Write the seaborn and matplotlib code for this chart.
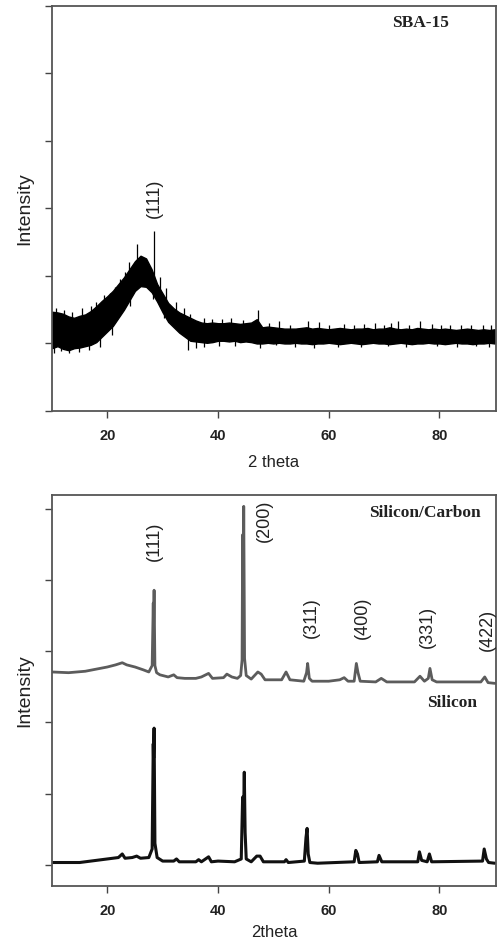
import matplotlib
matplotlib.use('Agg')
import matplotlib.pyplot as plt
import seaborn as sns
import pandas as pd

# ---------------- data ----------------
# SBA-15: noisy band described by upper / lower envelopes (2theta step 1 deg)
sba_theta = list(range(10, 91))
sba_upper = [1.47, 1.46, 1.44, 1.40, 1.38, 1.41, 1.43, 1.48, 1.55, 1.63,
             1.70, 1.78, 1.88, 1.98, 2.10, 2.22, 2.30, 2.26, 2.10, 1.88,
             1.74, 1.60, 1.52, 1.46, 1.42, 1.38, 1.34, 1.31, 1.30, 1.31,
             1.30, 1.30, 1.31, 1.30, 1.29, 1.30, 1.31, 1.36, 1.24, 1.25,
             1.24, 1.23, 1.22, 1.22, 1.22, 1.23, 1.24, 1.22, 1.23, 1.22,
             1.21, 1.22, 1.23, 1.22, 1.21, 1.22, 1.22, 1.23, 1.21, 1.22,
             1.22, 1.24, 1.22, 1.21, 1.22, 1.21, 1.23, 1.22, 1.21, 1.22,
             1.21, 1.22, 1.21, 1.20, 1.21, 1.22, 1.21, 1.20, 1.21, 1.20,
             1.21]
sba_lower = [0.93, 0.96, 0.92, 0.90, 0.93, 0.94, 0.96, 0.98, 1.02, 1.10,
             1.18, 1.26, 1.38, 1.50, 1.64, 1.78, 1.85, 1.84, 1.76, 1.62,
             1.46, 1.32, 1.24, 1.16, 1.10, 1.04, 1.03, 1.02, 1.01, 1.02,
             1.04, 1.04, 1.03, 1.04, 1.02, 1.03, 1.02, 1.00, 1.00, 1.01,
             1.00, 1.01, 1.00, 1.00, 1.01, 1.00, 1.00, 0.99, 1.00, 1.00,
             1.01, 1.00, 0.99, 1.00, 1.01, 1.00, 0.99, 1.00, 1.01, 1.00,
             1.00, 0.99, 1.00, 1.01, 1.00, 0.99, 1.00, 1.00, 1.01, 1.00,
             1.00, 0.99, 1.00, 1.01, 1.00, 1.00, 0.99, 1.00, 1.00, 1.01,
             1.00]
# upward spikes sticking out of the band (position, tip)
up_theta = [10.7, 12.2, 13.6, 15.5, 17.0, 18.0, 19.4, 20.4, 21.3, 22.3, 23.2, 24.0,
            25.3, 28.35, 29.6, 30.6, 32.4, 33.9, 35.0, 37.5, 39.0, 40.8, 42.3,
            44.5, 47.2, 49.3, 51.1, 53.0, 56.2, 58.3, 60.1, 62.8, 64.5, 66.4, 68.3,
            70.0, 71.3, 72.5, 74.5, 76.5, 78.6, 80.3, 81.9, 84.0, 85.8, 87.9, 89.4]
up_tip = [1.53, 1.50, 1.47, 1.52, 1.55, 1.62, 1.72, 1.75, 1.84, 1.95, 2.06, 2.20,
          2.48, 2.66, 1.98, 1.82, 1.62, 1.52, 1.44, 1.38, 1.36, 1.36, 1.37,
          1.35, 1.50, 1.30, 1.33, 1.28, 1.33, 1.32, 1.28, 1.29, 1.28, 1.29, 1.31,
          1.28, 1.30, 1.33, 1.28, 1.34, 1.29, 1.27, 1.28, 1.27, 1.27, 1.28, 1.27]
# downward spikes (position, lowest point)
dn_theta = [10.4, 11.6, 13.1, 14.8, 16.7, 18.6, 20.9, 24.1, 28.3, 30.2, 34.5,
            36.1, 37.5, 40.2, 43.0, 47.5, 50.5, 54.0, 57.4, 61.7, 65.9, 70.7,
            74.0, 79.5, 83.1, 86.7, 89.0]
dn_tip = [0.86, 0.89, 0.86, 0.88, 0.91, 0.95, 1.12, 1.55, 1.66, 1.38, 0.90,
          0.93, 0.95, 0.96, 0.96, 0.94, 0.97, 0.95, 0.94, 0.95, 0.95, 0.96,
          0.95, 0.96, 0.95, 0.96, 0.95]

# Silicon/Carbon trace (grey)
sc_theta = [10, 13, 16, 18, 20, 21.5, 22.7, 23.5, 25, 26.5, 27.5, 28.1, 28.3, 28.35,
            28.45, 28.6, 28.9, 29.5, 31, 32, 32.6, 34, 36, 37, 38.3, 39, 41, 41.6,
            42.5, 43.5, 44.1, 44.35, 44.45, 44.55, 44.65, 44.8, 45.1, 46, 47.2, 47.8,
            48.5, 51.5, 52.3, 53, 55.5, 56.0, 56.2, 56.5, 57, 60, 62, 62.8, 63.5,
            64.6, 65.0, 65.3, 65.7, 68.5, 69.5, 70.5, 75.5, 76.5, 77.3, 78.0, 78.3,
            78.7, 79.5, 83, 87.5, 88.2, 88.8, 90]
sc_int = [2.71, 2.70, 2.72, 2.75, 2.78, 2.81, 2.84, 2.81, 2.78, 2.74, 2.71, 2.80, 3.68,
          3.30, 3.86, 2.80, 2.70, 2.67, 2.64, 2.67, 2.63, 2.62, 2.62, 2.64, 2.69,
          2.62, 2.63, 2.68, 2.64, 2.62, 2.66, 2.88, 4.64, 3.40, 5.04, 2.90, 2.66,
          2.61, 2.71, 2.68, 2.60, 2.60, 2.71, 2.60, 2.58, 2.70, 2.83, 2.62, 2.58,
          2.58, 2.60, 2.63, 2.58, 2.58, 2.83, 2.70, 2.58, 2.57, 2.62, 2.57, 2.57,
          2.65, 2.58, 2.62, 2.76, 2.60, 2.57, 2.57, 2.57, 2.64, 2.56, 2.55]

# Silicon trace (black)
si_theta = [10, 15, 17, 20, 22, 22.7, 23.2, 24.5, 25.3, 26, 27.5, 28.1, 28.3, 28.35,
            28.45, 28.6, 29, 30, 32, 32.5, 33, 36, 36.5, 37, 38.3, 38.8, 40, 43,
            44.2, 44.45, 44.6, 44.75, 44.9, 45.1, 46, 47, 47.6, 48.2, 52, 52.3,
            52.7, 55.6, 55.9, 56.1, 56.3, 56.6, 58, 64.6, 64.9, 65.2, 65.5, 68.8,
            69.1, 69.6, 76.1, 76.4, 76.8, 77.8, 78.2, 78.6, 87.8, 88.1, 88.5, 88.9, 90]
si_int = [0.03, 0.03, 0.05, 0.08, 0.10, 0.15, 0.09, 0.10, 0.12, 0.09, 0.10, 0.22,
          1.70, 1.50, 1.92, 0.30, 0.10, 0.05, 0.05, 0.08, 0.04, 0.04, 0.07, 0.04,
          0.11, 0.04, 0.05, 0.04, 0.08, 0.95, 0.60, 1.30, 0.45, 0.08, 0.04, 0.12,
          0.12, 0.04, 0.04, 0.07, 0.03, 0.05, 0.38, 0.51, 0.15, 0.03, 0.02, 0.04,
          0.20, 0.15, 0.03, 0.04, 0.13, 0.04, 0.04, 0.18, 0.06, 0.04, 0.15, 0.04,
          0.05, 0.22, 0.08, 0.03, 0.02]

# peak labels
top_labels = ['(111)']
top_label_x = [28.5]
top_label_y = [3.15]
bot_labels = ['(111)', '(200)', '(311)', '(400)', '(331)', '(422)']
bot_label_x = [28.5, 48.4, 56.9, 66.0, 77.9, 88.6]
bot_label_y = [4.55, 4.83, 3.47, 3.47, 3.34, 3.30]

xticks = [20, 40, 60, 80]

# ---------------- figure ----------------
sns.set_theme(style='ticks')
plt.rcParams['font.family'] = ['Liberation Sans', 'DejaVu Sans']

fig = plt.figure(figsize=(4.97, 9.5), dpi=100)
ax1 = fig.add_axes([0.1046, 0.5674, 0.893, 0.4263])
ax2 = fig.add_axes([0.1046, 0.0674, 0.893, 0.4116])

# --- top panel: SBA-15
ax1.fill_between(sba_theta, sba_lower, sba_upper, color='black', linewidth=1.0,
                 edgecolor='black')
up_base = [sba_lower[int(round(t)) - 10] + 0.1 for t in up_theta]
dn_base = [sba_upper[int(round(t)) - 10] - 0.1 for t in dn_theta]
ax1.vlines(up_theta, up_base, up_tip, color='black', linewidth=0.9)
ax1.vlines(dn_theta, dn_tip, dn_base, color='black', linewidth=0.9)
ax1.set_xlim(10, 90.2)
ax1.set_ylim(0, 6)
for t, x, y in zip(top_labels, top_label_x, top_label_y):
    ax1.text(x, y, t, rotation=90, ha='center', va='center', fontsize=13, color='#222')
ax1.text(76.6, 5.75, 'SBA-15', ha='center', va='center', fontsize=12.5,
         family=['Liberation Serif'], fontweight='bold', color='#222')

# --- bottom panel
df_sc = pd.DataFrame({'theta': sc_theta, 'I': sc_int})
df_si = pd.DataFrame({'theta': si_theta, 'I': si_int})
sns.lineplot(data=df_sc, x='theta', y='I', ax=ax2, color='#5c5c5c', linewidth=2.0,
             estimator=None, sort=False)
sns.lineplot(data=df_si, x='theta', y='I', ax=ax2, color='#111111', linewidth=2.2,
             estimator=None, sort=False)
ax2.set_xlim(10, 90.2)
ax2.set_ylim(-0.3, 5.2)
for t, x, y in zip(bot_labels, bot_label_x, bot_label_y):
    ax2.text(x, y, t, rotation=90, ha='center', va='center', fontsize=13, color='#222')
ax2.text(77.4, 4.95, 'Silicon/Carbon', ha='center', va='center', fontsize=12.5,
         family=['Liberation Serif'], fontweight='bold', color='#222')
ax2.text(82.35, 2.27, 'Silicon', ha='center', va='center', fontsize=12.5,
         family=['Liberation Serif'], fontweight='bold', color='#222')

for ax, xl, ypos in ((ax1, '2 theta', -0.109), (ax2, '2theta', -0.0997)):
    ax.set_xticks(xticks)
    ax.set_xticklabels([str(v) for v in xticks], fontsize=10.5, fontweight='bold', color='#222')
    ax.tick_params(axis='both', direction='out', length=5, width=1.0, color='#444', pad=8)
    for s in ax.spines.values():
        s.set_color('#555')
        s.set_linewidth(1.3)
    ax.set_xlabel(xl, fontsize=12, color='#222')
    ax.xaxis.set_label_coords(0.5, ypos)
    ax.set_ylabel('Intensity', fontsize=14, color='#222')
    ax.yaxis.set_label_coords(-0.043, 0.5)

ax1.set_yticks([0, 1, 2, 3, 4, 5, 6])
ax1.set_yticklabels([])
ax2.set_yticks([0, 1, 2, 3, 4, 5])
ax2.set_yticklabels([])

fig.savefig('out.png', dpi=100)
